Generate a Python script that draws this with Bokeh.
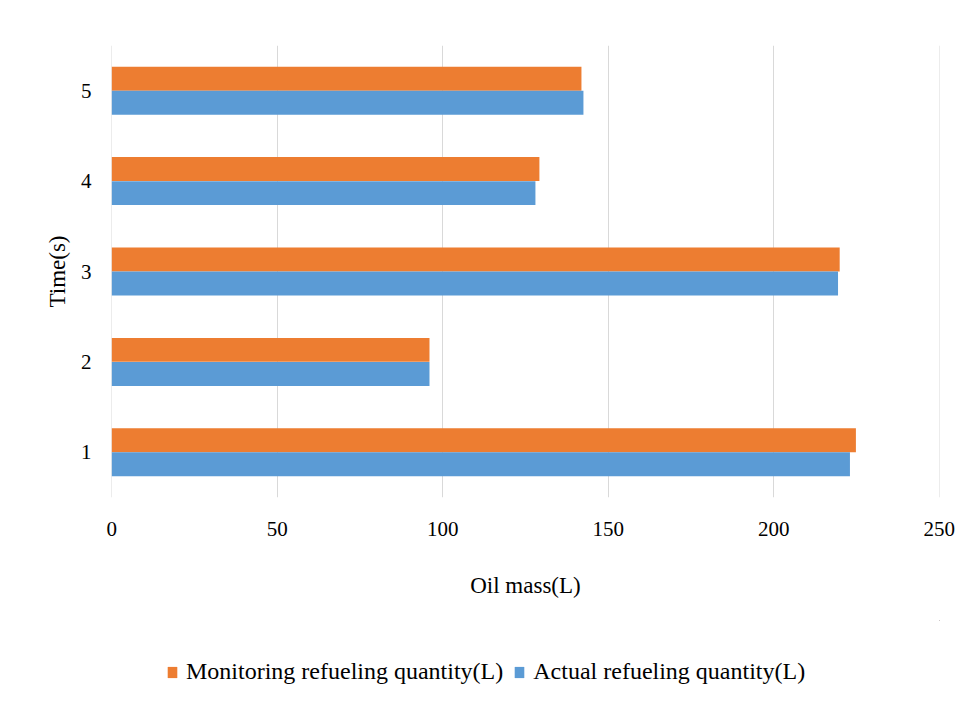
from bokeh.plotting import figure
from bokeh.models import ColumnDataSource, FactorRange, Legend, LegendItem, FixedTicker, Range1d
from bokeh.layouts import column
from bokeh.transform import dodge
from bokeh.embed import file_html
from bokeh.resources import INLINE

times = ["1", "2", "3", "4", "5"]
monitoring = [224.8, 96.0, 219.9, 129.2, 141.9]
actual = [223.0, 96.0, 219.4, 128.0, 142.5]
x_ticks = [0, 50, 100, 150, 200, 250]
series_names = ["Monitoring refueling quantity(L)", "Actual refueling quantity(L)"]

FONT = "Liberation Serif"
ORANGE = "#ED7D31"
BLUE = "#5B9BD5"

src = ColumnDataSource(dict(time=times, monitoring=monitoring, actual=actual))

p = figure(width=958, height=620, y_range=FactorRange(*times), x_range=(-0.05, 250.05),
           output_backend="svg", toolbar_location=None,
           min_border_left=111, min_border_right=19, min_border_top=45, min_border_bottom=123)

p.hbar(y=dodge("time", 0.133, range=p.y_range), right="monitoring", left=0, height=0.265,
       source=src, color=ORANGE, line_color=None)
p.hbar(y=dodge("time", -0.133, range=p.y_range), right="actual", left=0, height=0.265,
       source=src, color=BLUE, line_color=None)

p.outline_line_color = None
p.ygrid.grid_line_color = None
p.xgrid.grid_line_color = "#d9d9d9"
p.xgrid.grid_line_width = 1
p.xaxis.ticker = FixedTicker(ticks=x_ticks)

for ax in (p.xaxis[0], p.yaxis[0]):
    ax.axis_line_color = None
    ax.major_tick_line_color = None
    ax.minor_tick_line_color = None
    ax.major_label_text_font = FONT
    ax.major_label_text_font_size = "21px"
    ax.major_label_text_color = "#000000"
    ax.axis_label_text_font = FONT
    ax.axis_label_text_font_size = "23px"
    ax.axis_label_text_font_style = "normal"
    ax.axis_label_text_color = "#000000"

p.xaxis.axis_label = "Oil mass(L)"
p.xaxis.major_label_standoff = 18
p.xaxis.axis_label_standoff = 34
p.yaxis.axis_label = "Time(s)"
p.yaxis.major_label_standoff = 14
p.yaxis.axis_label_standoff = 8

# legend strip: same bars, shifted fully out of view so only the legend shows
p2 = figure(width=958, height=94, x_range=Range1d(-2, -1), y_range=FactorRange(*times),
            x_axis_type=None, y_axis_type=None, output_backend="svg", toolbar_location=None,
            min_border=0, min_border_left=0, min_border_right=0, min_border_top=0, min_border_bottom=0)
p2.outline_line_color = None
p2.grid.visible = False
g1 = p2.hbar(y=dodge("time", 10, range=p2.y_range), right="monitoring", left=0, height=0.265,
             source=src, color=ORANGE, line_color=None)
g2 = p2.hbar(y=dodge("time", 10, range=p2.y_range), right="actual", left=0, height=0.265,
             source=src, color=BLUE, line_color=None)

legend = Legend(items=[LegendItem(label=series_names[0], renderers=[g1]),
                       LegendItem(label=series_names[1], renderers=[g2])],
                orientation="horizontal", location=(55, 29), margin=0, padding=8,
                label_text_font=FONT, label_text_font_size="24px", label_text_color="#000000",
                glyph_width=12, glyph_height=14, label_standoff=8, spacing=10,
                border_line_color=None, background_fill_alpha=0)
p2.add_layout(legend, "center")

lay = column(p, p2, spacing=0)

open("out.html", "w").write(file_html(lay, INLINE))
